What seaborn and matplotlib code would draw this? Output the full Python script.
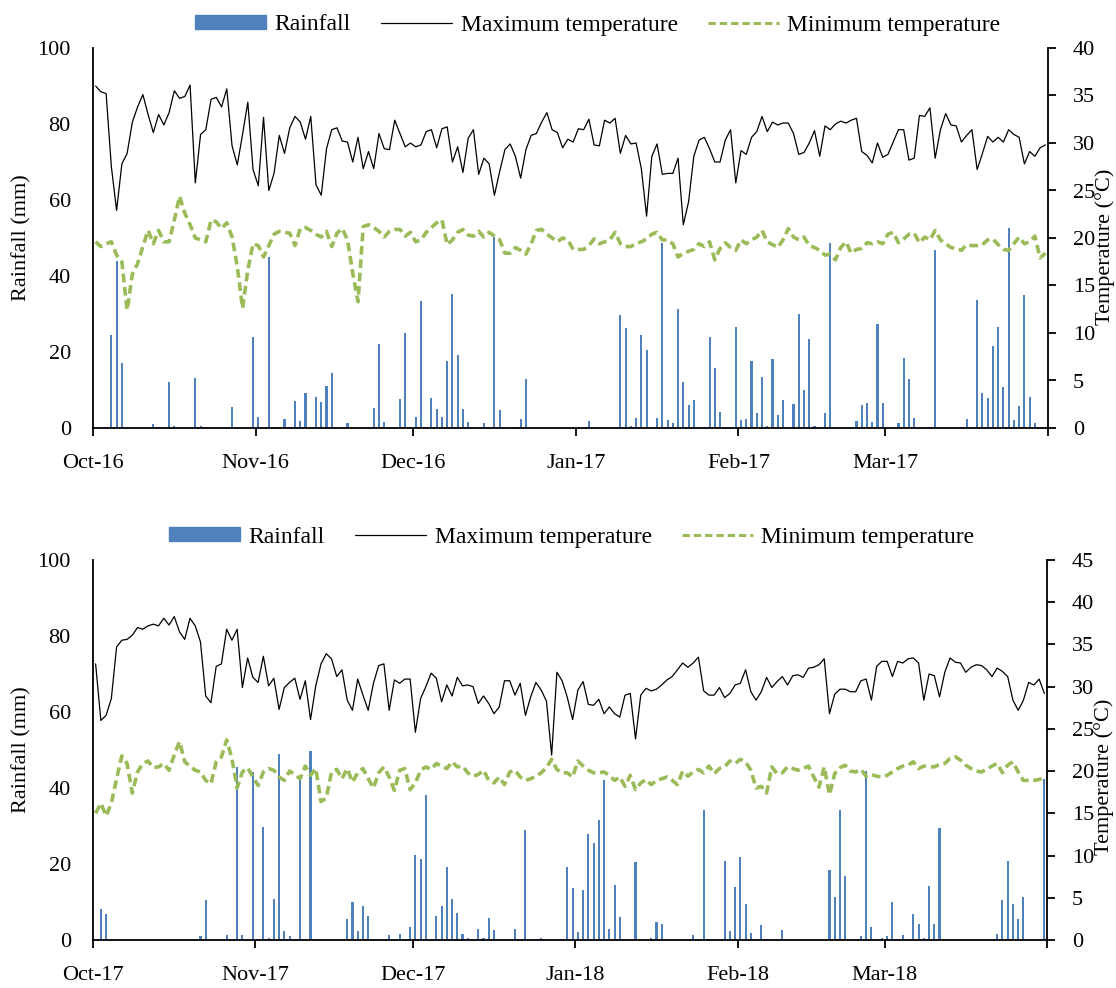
# rainfall and air temperature, two seasons (Oct-Mar)

import numpy as np
import pandas as pd
import seaborn as sns
import matplotlib.pyplot as plt
from matplotlib.patches import Patch
from matplotlib.lines import Line2D

# ---- 2016/17 season (day 0 = 1 Oct) ----
tmax_16 = [36.0, 35.4, 35.2, 27.5, 22.9, 27.8, 28.9, 32.2, 33.8, 35.1, 33.0, 31.1, 33.0, 31.9, 33.2, 35.5,
           34.7, 34.9, 36.1, 25.8, 30.9, 31.4, 34.6, 34.8, 33.8, 35.7, 29.7, 27.7, 30.9, 34.3, 27.2, 25.5,
           32.7, 25.0, 26.8, 30.8, 28.9, 31.6, 32.8, 32.2, 30.4, 32.8, 25.6, 24.5, 29.4, 31.4, 31.6,
           30.2, 30.1, 28.0, 30.6, 27.3, 29.1, 27.3, 31.0, 29.4, 29.3, 32.4, 31.0, 29.6, 30.0, 29.6, 29.8,
           31.2, 31.4, 29.5, 31.5, 31.7, 28.0, 29.6, 26.9, 30.5, 31.4, 26.7, 28.4, 27.8, 24.5, 27.0, 29.3,
           29.9, 28.6, 26.3, 29.3, 30.8, 31.0, 32.2, 33.2, 31.4, 31.1, 29.5, 30.4, 30.1, 31.5,
           31.4, 32.5, 29.8, 29.7, 32.4, 32.1, 32.6, 28.9, 30.8, 29.9, 30.0, 27.3, 22.3, 28.6, 29.9, 26.7,
           26.8, 26.8, 28.4, 21.4, 23.8, 28.6, 30.3, 30.6, 29.4, 28.0, 28.0, 30.3, 31.4, 25.8, 29.2, 28.8,
           30.6, 31.2, 32.8, 31.2, 32.2, 31.9, 32.1, 32.1, 31.0, 28.8, 29.0, 30.0, 31.3, 28.6,
           31.8, 31.4, 32.0, 32.3, 32.1, 32.4, 32.6, 29.1, 28.7, 27.9, 30.0, 28.5, 28.8, 30.1, 31.4, 31.4,
           28.2, 28.4, 32.9, 32.8, 33.7, 28.4, 31.4, 33.1, 31.9, 31.8, 30.1, 30.8, 31.4, 27.2, 28.9, 30.7,
           30.1, 30.6, 30.1, 31.4, 30.9, 30.6, 27.8, 29.1, 28.6, 29.5, 29.8]
tmin_16 = [19.6, 19.1, 19.4, 19.6, 18.2, 17.5, 12.4, 16.2, 17.3, 19.1, 20.8, 19.4, 20.8, 19.6, 19.6, 21.9,
           24.4, 22.6, 21.4, 20.0, 19.8, 19.6, 21.9, 21.7, 21.0, 21.6, 20.1, 17.0, 12.6, 16.6, 19.4, 19.2,
           18.0, 19.2, 20.4, 20.7, 20.6, 20.5, 19.2, 21.0, 21.1, 20.8, 20.4, 20.1, 20.7, 19.1, 20.5,
           21.0, 19.8, 16.3, 13.3, 21.2, 21.4, 21.1, 20.7, 20.1, 20.7, 20.9, 20.9, 20.2, 20.6, 19.6, 19.8,
           20.6, 21.1, 21.6, 21.9, 19.3, 19.8, 20.6, 20.9, 20.3, 20.2, 20.7, 20.1, 20.6, 20.2, 19.8, 18.4,
           18.4, 19.0, 18.7, 18.3, 19.4, 20.8, 20.9, 20.4, 20.0, 19.6, 20.0, 19.8, 18.8, 18.8,
           18.8, 19.2, 19.9, 19.4, 19.6, 19.8, 20.6, 19.4, 19.1, 19.1, 19.4, 19.6, 19.9, 20.4, 20.6, 19.8,
           19.8, 19.4, 18.0, 18.4, 18.6, 18.8, 19.4, 19.1, 19.6, 17.7, 18.9, 19.5, 19.0, 18.7, 19.8, 19.4,
           19.8, 20.1, 20.8, 19.6, 19.3, 19.0, 19.8, 21.0, 20.1, 19.8, 20.1, 19.2, 19.0, 18.7,
           18.2, 18.3, 17.7, 19.0, 19.6, 18.4, 18.8, 18.9, 19.5, 19.4, 19.6, 19.4, 20.4, 20.6, 19.5, 19.9,
           20.4, 20.5, 19.5, 20.1, 19.8, 20.8, 19.8, 19.4, 19.0, 18.9, 18.7, 19.3, 19.2, 19.2, 19.3, 19.8,
           19.9, 19.3, 18.8, 18.7, 19.4, 20.1, 19.4, 19.6, 20.2, 17.9, 18.4]
rain_day_16 = [3, 4, 5, 11, 14, 15, 19, 20, 26, 30, 31, 33, 34, 36, 38, 39, 40, 42, 43, 44, 45,
               48, 53, 54, 55, 58, 59, 60, 61, 62, 64, 65, 66, 67, 68, 69, 70, 71, 74, 76, 77, 80, 81, 82,
               94, 100, 101, 102, 103, 104, 105, 107, 108, 109, 110, 111, 112, 113, 114, 116, 117, 118, 119,
               122, 123, 124, 125, 126, 127, 128, 129, 130, 131, 133, 134, 135, 136, 137,
               139, 140, 145, 146, 147, 148, 149, 150, 153, 154, 155, 156, 160, 166, 168, 169, 170, 171,
               172, 173, 174, 175, 176, 177, 178, 179]
rain_mm_16 = [24.5, 44.0, 17.2, 1.1, 12.2, 0.5, 13.1, 0.5, 5.4, 23.9, 2.8, 44.9, 0.3, 2.3, 7.1, 1.8, 9.3,
              8.2, 6.9, 11.1, 14.4,
              1.2, 5.3, 22.1, 1.6, 7.5, 25.0, 0.2, 3.0, 33.5, 8.0, 5.1, 2.8, 17.5, 35.2, 19.2, 4.9, 1.5,
              1.2, 50.3, 4.7, 0.2, 2.3, 13.0,
              1.9, 29.7, 26.3, 0.6, 2.6, 24.4, 20.5, 2.6, 48.7, 2.0, 1.4, 31.2, 12.2, 6.0, 7.4, 0.2, 23.9,
              15.9, 4.2, 26.5, 2.0, 2.4, 17.5, 3.9, 13.4, 0.6, 18.1, 3.5, 7.4, 6.3, 30.0, 10.0, 23.3, 0.6,
              4.0, 48.6, 1.9, 6.0, 6.5, 1.5, 27.4, 6.7, 1.2, 18.5, 12.8, 2.6, 46.8, 2.4, 33.7, 9.1, 7.8,
              21.7, 26.6, 10.9, 52.5, 2.0, 5.8, 35.0, 8.2, 1.2]

# ---- 2017/18 season ----
tmax_17 = [32.7, 26.0, 26.6, 28.6, 34.7, 35.5, 35.6, 36.1, 37.0, 36.8, 37.2, 37.4, 37.2, 38.1, 37.3, 38.3,
           36.5, 35.6, 38.1, 37.2, 35.3, 28.9, 28.1, 32.4, 32.7, 36.8, 35.5, 36.8, 29.9, 33.4, 31.1, 30.5,
           33.6, 30.1, 31.0, 27.3, 29.9, 30.5, 31.0, 28.5, 30.7, 26.1, 30.1, 32.7, 33.9, 33.3, 31.2,
           32.0, 28.4, 27.2, 30.9, 29.0, 27.2, 30.4, 32.5, 32.7, 27.2, 30.8, 30.4, 30.9, 30.9, 24.6, 28.6,
           30.0, 31.6, 31.0, 28.2, 30.2, 28.9, 31.1, 30.1, 30.2, 30.0, 28.0, 28.9, 28.0, 26.8, 27.6, 30.7,
           30.7, 29.0, 30.4, 26.6, 28.8, 30.5, 29.6, 28.3, 21.9, 31.7, 30.7, 28.7, 26.1, 29.6,
           30.6, 27.9, 27.8, 28.5, 26.8, 27.6, 26.8, 26.4, 29.0, 29.2, 23.8, 29.0, 29.8, 29.5, 29.7, 30.2,
           30.8, 31.2, 32.0, 32.8, 32.3, 32.8, 33.5, 29.5, 29.0, 29.0, 29.9, 28.7, 29.2, 30.2, 30.4, 32.0,
           29.4, 28.4, 29.4, 31.1, 29.9, 30.6, 31.2, 30.2, 31.3, 31.4, 31.1, 32.2, 32.3, 32.6,
           33.3, 26.8, 29.1, 29.7, 29.7, 29.4, 29.4, 30.7, 30.9, 28.4, 32.4, 33.0, 33.0, 31.2, 33.0, 32.8,
           33.3, 33.4, 32.8, 28.4, 31.5, 31.3, 28.8, 31.7, 33.4, 32.9, 32.8, 31.7, 32.3, 32.6, 32.5, 32.0,
           31.2, 32.2, 31.8, 31.2, 28.4, 27.2, 28.4, 30.5, 30.2, 30.9, 29.2]
tmin_17 = [15.0, 16.2, 14.7, 16.2, 19.1, 21.8, 20.9, 17.4, 19.9, 20.9, 21.2, 20.4, 20.5, 20.9, 20.1, 21.9,
           23.5, 21.1, 20.6, 20.1, 19.9, 18.9, 18.5, 21.1, 21.7, 23.7, 21.5, 18.0, 19.9, 20.4, 19.3, 18.3,
           19.9, 20.3, 20.1, 19.3, 18.9, 20.0, 19.6, 19.1, 20.6, 19.5, 20.3, 16.4, 16.8, 19.9, 20.2,
           19.1, 20.3, 18.7, 19.8, 20.3, 19.1, 18.0, 19.8, 20.5, 19.3, 17.7, 20.1, 20.3, 17.8, 18.6, 20.1,
           20.5, 20.2, 20.9, 20.6, 20.3, 21.1, 20.5, 20.6, 19.8, 19.4, 19.6, 20.1, 18.9, 18.6, 19.3, 18.4,
           19.9, 20.1, 19.3, 18.9, 19.1, 19.4, 19.8, 20.4, 21.4, 20.2, 19.8, 19.8, 19.3, 21.2,
           20.6, 20.1, 19.8, 19.8, 19.9, 19.5, 18.9, 19.3, 18.2, 19.5, 17.8, 18.6, 19.0, 18.4, 18.9, 19.1,
           19.3, 18.9, 18.4, 20.0, 19.4, 19.9, 20.2, 19.8, 20.6, 19.7, 20.3, 20.5, 21.2, 20.9, 21.4, 21.1,
           20.1, 18.0, 18.2, 17.4, 20.5, 19.7, 19.8, 20.5, 20.3, 20.1, 20.3, 20.6, 19.3, 18.1,
           20.5, 17.2, 19.7, 20.4, 20.7, 20.0, 19.9, 20.2, 19.4, 19.6, 19.4, 19.3, 19.5, 19.9, 20.3, 20.6,
           20.7, 21.1, 20.3, 20.6, 20.5, 20.5, 20.8, 20.9, 21.5, 21.7, 21.3, 20.7, 20.3, 20.0, 19.9, 20.2,
           20.6, 20.9, 19.8, 20.7, 21.1, 19.9, 18.9, 18.9, 18.9, 19.0, 19.3]
rain_day_17 = [1, 2, 20, 21, 25, 27, 28, 30, 32, 33, 34, 35, 36, 37, 39, 41,
               48, 49, 50, 51, 52, 56, 58, 60, 61, 62, 63, 65, 66, 67, 68, 69, 70, 71, 73, 74, 75, 76, 80,
               82, 85, 90, 91, 92, 93, 94, 95, 96, 97, 98, 99, 100, 103, 106, 107, 108, 114, 116, 117, 120,
               121, 122, 123, 124, 125, 127, 131, 140, 141, 142, 143, 146, 147, 148, 150, 151, 152, 154,
               156, 157, 158, 159, 160, 161, 172, 173, 174, 175, 176, 177, 181]
rain_mm_17 = [8.1, 6.8, 1.1, 10.4, 1.3, 45.5, 1.3, 44.3, 29.8, 0.4, 10.7, 49.0, 2.4, 1.1, 42.8, 49.7,
              5.4, 10.1, 2.3, 9.0, 6.3, 1.3, 1.7, 3.4, 22.3, 21.2, 38.2, 6.3, 9.0, 19.1, 10.7, 7.0, 1.7,
              0.4, 2.9, 0.4, 5.9, 2.6, 3.0, 28.9, 0.4, 19.3, 13.8, 2.2, 13.2, 27.9, 25.6, 31.6, 42.0, 3.0,
              14.5, 6.1, 20.6, 0.4, 4.7, 4.3, 1.3, 34.2, 0.2, 20.9, 2.3, 13.9, 21.9, 9.5, 1.8, 4.0, 2.7,
              18.3, 11.2, 34.2, 16.8, 1.1, 44.5, 3.5, 0.4, 1.1, 10.1, 1.3, 6.9, 4.3, 0.4, 14.2, 4.3, 29.6,
              1.7, 10.6, 20.9, 9.4, 5.6, 11.2, 42.3]

month_start = [0, 31, 61, 92, 123, 151, 182]
labels_16 = ["Oct-16", "Nov-16", "Dec-16", "Jan-17", "Feb-17", "Mar-17", ""]
labels_17 = ["Oct-17", "Nov-17", "Dec-17", "Jan-18", "Feb-18", "Mar-18", ""]

BLUE = "#4F81BD"
GREEN = "#9BBB59"
DASH = (0, (2.4, 1.3))

sns.set_style("ticks")
plt.rcParams['font.family'] = ['Liberation Serif', 'DejaVu Serif']
plt.rcParams['text.color'] = 'black'
plt.rcParams['axes.labelcolor'] = 'black'
plt.rcParams['xtick.color'] = 'black'
plt.rcParams['ytick.color'] = 'black'
plt.rcParams['axes.edgecolor'] = 'black'

fig = plt.figure(figsize=(11.16, 9.88), dpi=100)
W, H = 1116, 988


def panel(ax, rain_day, rain_mm, tmax, tmin, tlim, xlabels, tlabel_y, leg_xy):
    n = len(tmax)
    rain = np.zeros(n)
    rain[rain_day] = rain_mm
    df = pd.DataFrame({"day": np.arange(n) + 0.5, "rain": rain, "tmax": tmax, "tmin": tmin})

    sns.barplot(data=df, x="day", y="rain", native_scale=True, orient="x", width=0.4,
                color=BLUE, saturation=1, errorbar=None, linewidth=0, ax=ax)
    ax.set_xlim(0, n)
    ax.set_ylim(0, 100)
    ax.set_yticks(range(0, 101, 20))
    ax.set_xticks(month_start)
    ax.set_xticklabels(xlabels)
    ax.set_xlabel("")
    ax.set_ylabel("Rainfall (mm)", fontsize=16)
    ax.yaxis.set_label_coords((31 - 93) / 955, 0.5)
    ax.tick_params(axis="x", direction="out", length=6, width=1.3, pad=13, labelsize=16)
    ax.tick_params(axis="y", length=0, pad=16, labelsize=16)
    for s in ["top", "right"]:
        ax.spines[s].set_visible(False)
    for s in ["left", "bottom"]:
        ax.spines[s].set_linewidth(1.3)

    ax2 = ax.twinx()
    sns.lineplot(data=df, x="day", y="tmax", color="black", lw=0.9, ax=ax2)
    sns.lineplot(data=df, x="day", y="tmin", color=GREEN, lw=2.6, linestyle=DASH, ax=ax2)
    ax2.set_ylim(0, tlim)
    ax2.set_yticks(range(0, tlim + 1, 5))
    ax2.set_xlim(0, n)
    ax2.set_ylabel("Temperature (°C)", fontsize=16)
    ax2.yaxis.set_label_coords((1095 - 93) / 955, tlabel_y)
    ax2.tick_params(axis="y", direction="out", length=6, width=1.3, pad=12, labelsize=16)
    for s in ["top", "left", "bottom"]:
        ax2.spines[s].set_visible(False)
    ax2.spines["right"].set_linewidth(1.3)

    handles = [Patch(color=BLUE),
               Line2D([], [], color="black", lw=0.9),
               Line2D([], [], color=GREEN, lw=2.2, linestyle=DASH)]
    fig.legend(handles, ["Rainfall", "Maximum temperature", "Minimum temperature"],
               loc="center", bbox_to_anchor=leg_xy, ncol=3, frameon=False, fontsize=17,
               handlelength=3.0, handleheight=0.55, handletextpad=0.35, columnspacing=1.3)


ax_top = fig.add_axes([93 / W, 1 - 428 / H, (1048 - 93) / W, 380 / H])
ax_bot = fig.add_axes([93 / W, 1 - 940 / H, (1047 - 93) / W, 380 / H])

panel(ax_top, rain_day_16, rain_mm_16, tmax_16, tmin_16, 40, labels_16, 0.476,
      (598 / W, 1 - 25 / H))
panel(ax_bot, rain_day_17, rain_mm_17, tmax_17, tmin_17, 45, labels_17, 0.43,
      (572 / W, 1 - 537 / H))

fig.savefig("out.png", dpi=100)
